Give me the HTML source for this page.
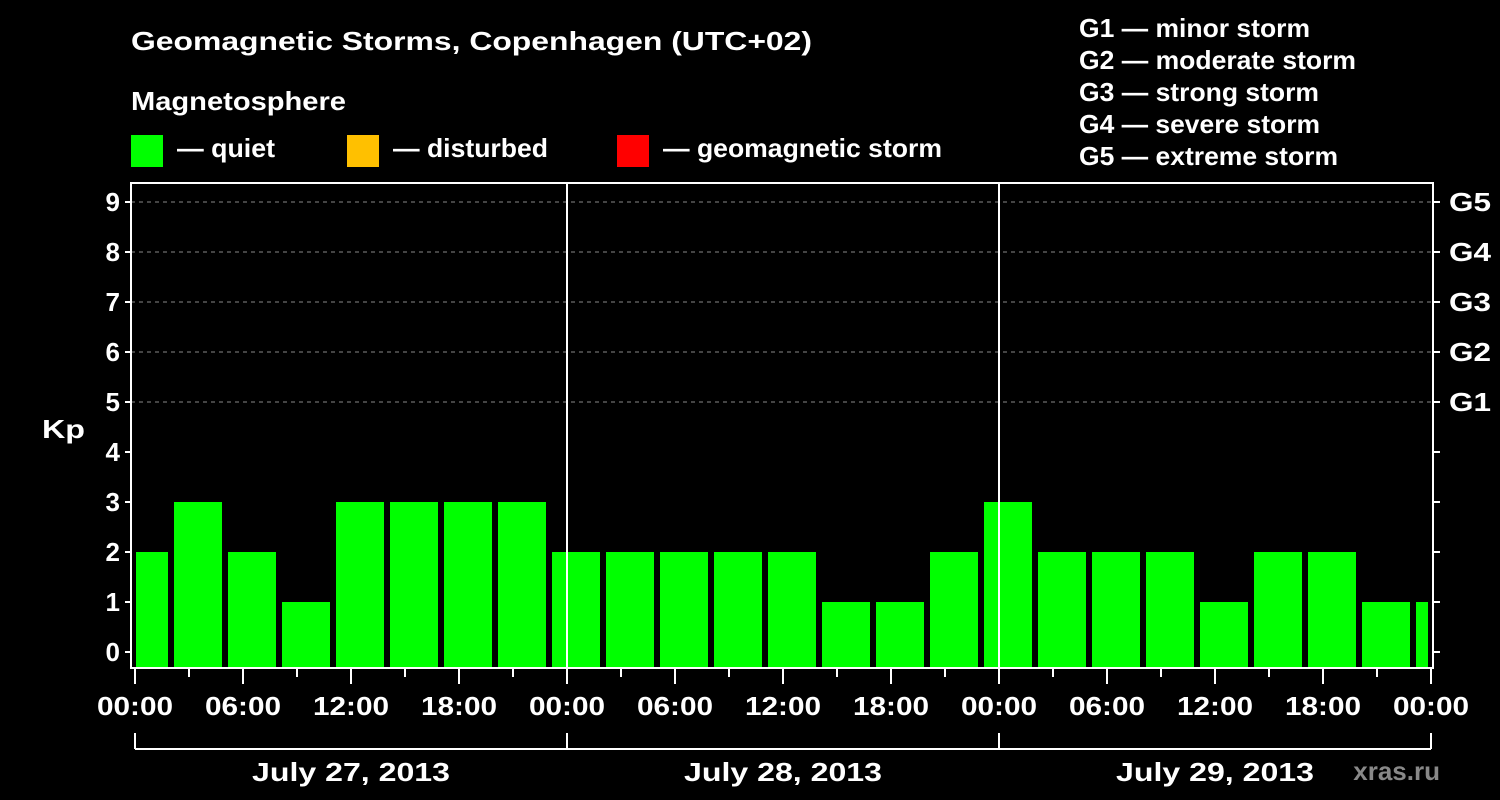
<!DOCTYPE html>
<html><head><meta charset="utf-8"><style>
html,body{margin:0;padding:0;background:#000;}
svg{display:block;font-family:"Liberation Sans",Arial,sans-serif;font-weight:bold;}
</style></head><body>
<svg id="c" width="1500" height="800" viewBox="0 0 1500 800">
<rect width="1500" height="800" fill="#000"/>
<text x="131" y="50" fill="#fff" font-size="26" textLength="681" lengthAdjust="spacingAndGlyphs">Geomagnetic Storms, Copenhagen (UTC+02)</text>
<text x="131" y="110" fill="#fff" font-size="26" textLength="215" lengthAdjust="spacingAndGlyphs">Magnetosphere</text>
<g><rect x="131" y="135" width="32" height="32" fill="#00ff00"/><text x="177" y="157" fill="#fff" font-size="26" textLength="98" lengthAdjust="spacingAndGlyphs">— quiet</text></g>
<g><rect x="347" y="135" width="32" height="32" fill="#ffc000"/><text x="393" y="157" fill="#fff" font-size="26" textLength="155" lengthAdjust="spacingAndGlyphs">— disturbed</text></g>
<g><rect x="617" y="135" width="32" height="32" fill="#ff0000"/><text x="663" y="157" fill="#fff" font-size="26" textLength="279" lengthAdjust="spacingAndGlyphs">— geomagnetic storm</text></g>
<g fill="#fff" font-size="26">
<text x="1079" y="37" textLength="231" lengthAdjust="spacingAndGlyphs">G1 — minor storm</text>
<text x="1079" y="69" textLength="277" lengthAdjust="spacingAndGlyphs">G2 — moderate storm</text>
<text x="1079" y="101" textLength="240" lengthAdjust="spacingAndGlyphs">G3 — strong storm</text>
<text x="1079" y="133" textLength="241" lengthAdjust="spacingAndGlyphs">G4 — severe storm</text>
<text x="1079" y="165" textLength="259" lengthAdjust="spacingAndGlyphs">G5 — extreme storm</text>
</g>
<text x="42" y="438" fill="#fff" font-size="26" textLength="43" lengthAdjust="spacingAndGlyphs">Kp</text>
<text x="1440" y="780" fill="#888" font-size="26" text-anchor="end">xras.ru</text>
<g id="grid"></g><g id="bars"></g><g id="axes"></g>
</svg>
<script>
const kpValues = [2,3,2,1,3,3,3,3,2,2,2,2,2,1,1,2,3,2,2,2,1,2,2,1,1];
const barStartHours = [-1,2,5,8,11,14,17,20,23,26,29,32,35,38,41,44,47,50,53,56,59,62,65,68,71];
const yTicks = [0,1,2,3,4,5,6,7,8,9];
const gLabels = ["G1","G2","G3","G4","G5"];
const gLevels = [5,6,7,8,9];
const xTickLabels = ["00:00","06:00","12:00","18:00","00:00","06:00","12:00","18:00","00:00","06:00","12:00","18:00","00:00"];
const dayLabels = ["July 27, 2013","July 28, 2013","July 29, 2013"];

const NS="http://www.w3.org/2000/svg";
const x0=135, pxH=18, pLeft=131, pRight=1433, pTop=183, pBottom=668;
const xs=h=>x0+h*pxH;
const ys=v=>652-v*50;
function mk(t,a,p){const e=document.createElementNS(NS,t);for(const k in a)e.setAttribute(k,a[k]);p.appendChild(e);return e;}
const grid=document.getElementById('grid'),bars=document.getElementById('bars'),axes=document.getElementById('axes');
gLevels.forEach(v=>{
  const l=mk('line',{x1:pLeft,x2:pRight,y1:ys(v),y2:ys(v),stroke:'#888','stroke-dasharray':'4,4','stroke-width':1},grid);
  
  
});
kpValues.forEach((v,i)=>{
  let a=xs(barStartHours[i])+3, b=xs(barStartHours[i]+3)-3;
  a=Math.max(a,x0+1); b=Math.min(b,1428);
  const r=mk('rect',{x:a,y:ys(v),width:b-a,height:pBottom-ys(v),fill:'#00ff00'},bars);
  
  
});
const f=mk('rect',{x:pLeft,y:pTop,width:pRight-pLeft,height:pBottom-pTop,fill:'none',stroke:'#fff','stroke-width':2},axes);


[24,48].forEach(h=>{
  const l=mk('line',{x1:xs(h),x2:xs(h),y1:pTop,y2:pBottom,stroke:'#fff','stroke-width':2},axes);
  
  
});
yTicks.forEach(v=>{
  mk('line',{x1:pLeft-6,x2:pLeft,y1:ys(v),y2:ys(v),stroke:'#fff','stroke-width':2},axes);
  mk('line',{x1:pRight,x2:pRight+7,y1:ys(v),y2:ys(v),stroke:'#fff','stroke-width':2},axes);
  const t=mk('text',{x:pLeft-11,y:ys(v)+9,fill:'#fff','font-size':26,'text-anchor':'end'},axes);
  t.textContent=v;
  
  
});
gLabels.forEach((g,i)=>{
  const t=mk('text',{x:1449,y:ys(gLevels[i])+9,fill:'#fff','font-size':26,textLength:42,lengthAdjust:'spacingAndGlyphs'},axes);
  t.textContent=g;
  
  
});
for(let h=0;h<=72;h+=3){
  const major=h%6===0;
  mk('line',{x1:xs(h),x2:xs(h),y1:pBottom,y2:pBottom+(major?16:9),stroke:'#fff','stroke-width':2},axes);
}
xTickLabels.forEach((s,i)=>{
  const t=mk('text',{x:xs(i*6)-38,y:715,fill:'#fff','font-size':26,textLength:76,lengthAdjust:'spacingAndGlyphs'},axes);
  t.textContent=s;
  
  
});
mk('line',{x1:xs(0),x2:xs(72),y1:749,y2:749,stroke:'#fff','stroke-width':2},axes);
[0,24,48,72].forEach(h=>mk('line',{x1:xs(h),x2:xs(h),y1:733,y2:749,stroke:'#fff','stroke-width':2},axes));
dayLabels.forEach((s,i)=>{
  const t=mk('text',{x:xs(i*24+12)-99,y:781,fill:'#fff','font-size':26,textLength:198,lengthAdjust:'spacingAndGlyphs'},axes);
  t.textContent=s;
  
  
});
</script>
</body></html>
